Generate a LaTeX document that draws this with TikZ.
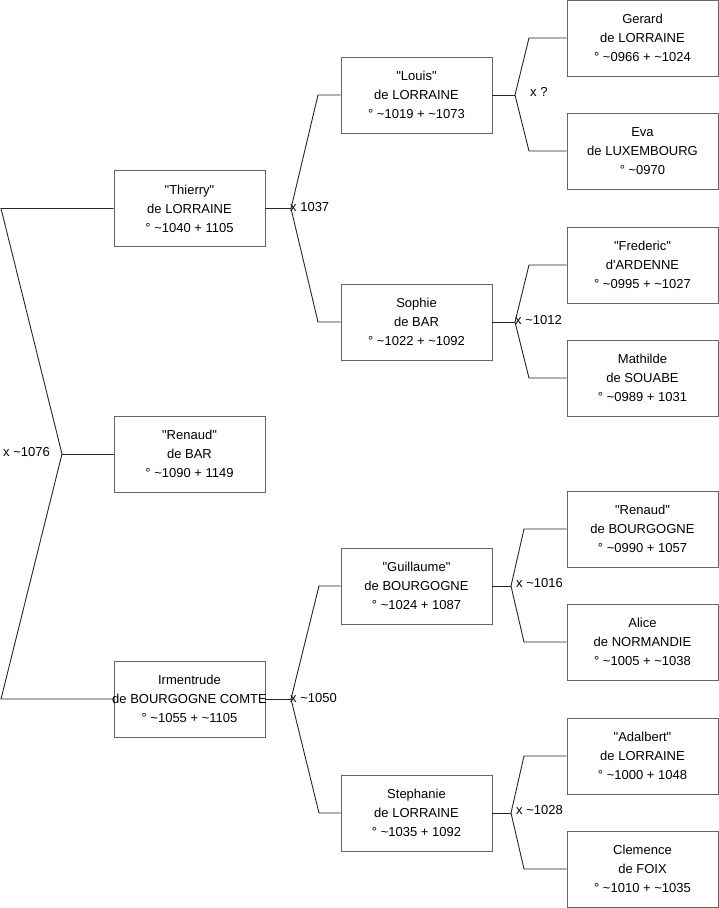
\documentclass[tikz,border=0pt]{standalone}
\usepackage{fontspec}
\newfontfamily\lib{Liberation Sans}
\begin{document}
\begin{tikzpicture}[x=1pt,y=-1pt,
  person/.style={draw=black!60, line width=0.9pt, fill=white, minimum width=151pt, minimum height=76pt,
    inner sep=0pt, align=center, font=\lib\fontsize{13}{19}\selectfont},
  link/.style={draw=black!85, line width=0.9pt},
  mlabel/.style={font=\lib\fontsize{13}{15}\selectfont, inner sep=0pt}]
\useasboundingbox (0,0) rectangle (719,908);
% column 1
\node[person] (thierry) at (189.5,208.5) {"Thierry"\\de LORRAINE\\° \textasciitilde1040 + 1105};
\node[person] (renaud) at (189.5,454) {"Renaud"\\de BAR\\° \textasciitilde1090 + 1149};
\node[person] (irm) at (189.5,699) {Irmentrude\\\makebox[140pt][c]{de BOURGOGNE COMTE}\\° \textasciitilde1055 + \textasciitilde1105};
% column 2
\node[person] (louis) at (416.5,95) {"Louis"\\de LORRAINE\\° \textasciitilde1019 + \textasciitilde1073};
\node[person] (sophie) at (416.5,322) {Sophie\\de BAR\\° \textasciitilde1022 + \textasciitilde1092};
\node[person] (guill) at (416.5,586) {"Guillaume"\\de BOURGOGNE\\° \textasciitilde1024 + 1087};
\node[person] (steph) at (416.5,813) {Stephanie\\de LORRAINE\\° \textasciitilde1035 + 1092};
% column 3
\node[person] (gerard) at (642.5,38) {Gerard\\de LORRAINE\\° \textasciitilde0966 + \textasciitilde1024};
\node[person] (eva) at (642.5,151) {Eva\\de LUXEMBOURG\\° \textasciitilde0970};
\node[person] (fred) at (642.5,265) {"Frederic"\\d'ARDENNE\\° \textasciitilde0995 + \textasciitilde1027};
\node[person] (math) at (642.5,378) {Mathilde\\de SOUABE\\° \textasciitilde0989 + 1031};
\node[person] (renb) at (642.5,529) {"Renaud"\\de BOURGOGNE\\° \textasciitilde0990 + 1057};
\node[person] (alice) at (642.5,642) {Alice\\de NORMANDIE\\° \textasciitilde1005 + \textasciitilde1038};
\node[person] (adal) at (642.5,756) {"Adalbert"\\de LORRAINE\\° \textasciitilde1000 + 1048};
\node[person] (clem) at (642.5,869) {Clemence\\de FOIX\\° \textasciitilde1010 + \textasciitilde1035};
% junction coordinates
\coordinate (lt) at (1,208.5);
\coordinate (j0) at (62,454);
\coordinate (lb) at (1,699);
\coordinate (j1) at (291,208.5);
\coordinate (k1a) at (318,95);
\coordinate (k1b) at (318,322);
\coordinate (j2) at (291,699);
\coordinate (k2a) at (319,586);
\coordinate (k2b) at (319,813);
\coordinate (j3) at (515,95);
\coordinate (k3a) at (529,38);
\coordinate (k3b) at (529,151);
\coordinate (j4) at (515,322);
\coordinate (k4a) at (529,265);
\coordinate (k4b) at (529,378);
\coordinate (j5) at (511,586);
\coordinate (k5a) at (524,529);
\coordinate (k5b) at (524,642);
\coordinate (j6) at (511,813);
\coordinate (k6a) at (524,756);
\coordinate (k6b) at (524,869);
% connectors
\draw[link] (thierry.west) -- (lt) -- (j0) -- (lb) -- (irm.west);
\draw[link] (j0) -- (renaud.west);
\draw[link] (thierry.east) -- (j1);
\draw[link] (louis.west) -- (k1a) -- (j1) -- (k1b) -- (sophie.west);
\draw[link] (irm.east) -- (j2);
\draw[link] (guill.west) -- (k2a) -- (j2) -- (k2b) -- (steph.west);
\draw[link] (louis.east) -- (j3);
\draw[link] (gerard.west) -- (k3a) -- (j3) -- (k3b) -- (eva.west);
\draw[link] (sophie.east) -- (j4);
\draw[link] (fred.west) -- (k4a) -- (j4) -- (k4b) -- (math.west);
\draw[link] (guill.east) -- (j5);
\draw[link] (renb.west) -- (k5a) -- (j5) -- (k5b) -- (alice.west);
\draw[link] (steph.east) -- (j6);
\draw[link] (adal.west) -- (k6a) -- (j6) -- (k6b) -- (clem.west);
% labels
\node[mlabel, anchor=west] (m0) at (3,452) {x \textasciitilde1076};
\node[mlabel, anchor=west] (m1) at (290,207) {x 1037};
\node[mlabel, anchor=west] (m2) at (290,698) {x \textasciitilde1050};
\node[mlabel, anchor=west] (m3) at (530,92) {x ?};
\node[mlabel, anchor=west] (m4) at (515,320) {x \textasciitilde1012};
\node[mlabel, anchor=west] (m5) at (516,583) {x \textasciitilde1016};
\node[mlabel, anchor=west] (m6) at (516,810) {x \textasciitilde1028};
\end{tikzpicture}
\end{document}
